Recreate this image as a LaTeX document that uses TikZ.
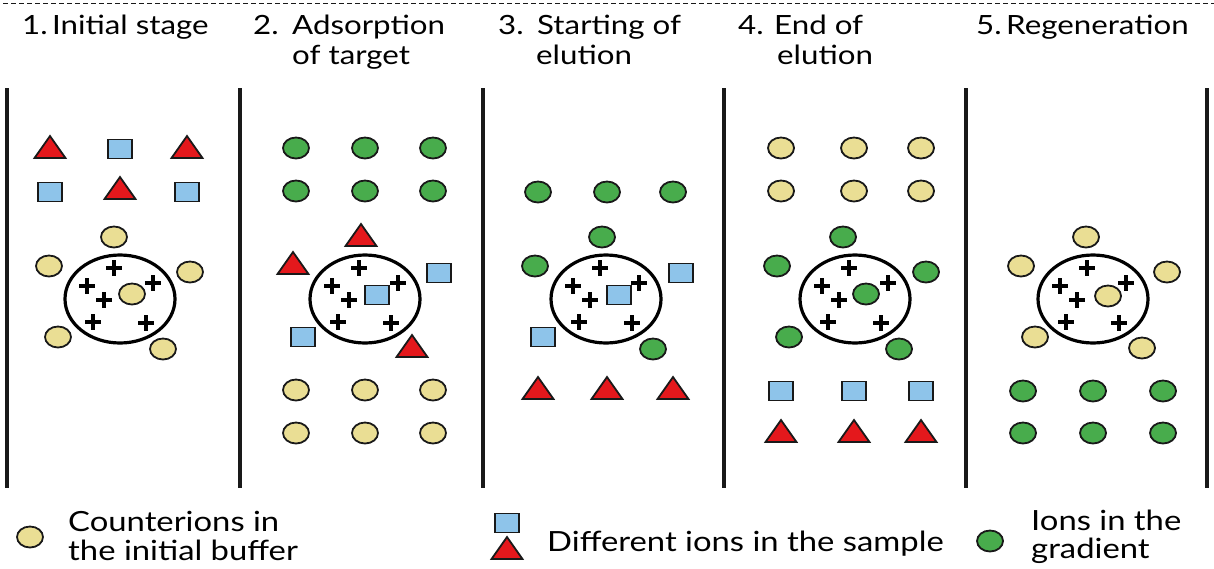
\documentclass[tikz,border=0pt]{standalone}
\usepackage{fontspec}
\setmainfont{Lato}[FakeStretch=1.18]
\usetikzlibrary{shapes.geometric}
\definecolor{cyel}{RGB}{234,222,148}
\definecolor{cgrn}{RGB}{72,172,76}
\definecolor{cred}{RGB}{228,24,28}
\definecolor{cblu}{RGB}{142,196,234}
\definecolor{cline}{RGB}{25,25,25}
\tikzset{
  ion/.style={draw=cline, line width=1.8pt, inner sep=0pt},
  yel/.style={ion, ellipse, fill=cyel, minimum width=26pt, minimum height=21pt},
  grn/.style={ion, ellipse, fill=cgrn, minimum width=26pt, minimum height=21pt},
  sq/.style={ion, rectangle, fill=cblu, minimum width=24pt, minimum height=19pt},
  tri/.style={ion, isosceles triangle, isosceles triangle stretches, shape border rotate=90, fill=cred, minimum width=31pt, minimum height=22pt},
  bead/.style={draw=black, line width=3.2pt, ellipse, minimum width=110pt, minimum height=88pt, inner sep=0pt},
  wall/.style={draw=cline, line width=3.2pt},
  head/.style={anchor=base west, inner sep=0pt, font=\fontsize{26.5}{32}\selectfont},
  leg/.style={anchor=base west, inner sep=0pt, font=\fontsize{27.8}{32}\selectfont},
  pl/.pic={\draw[line width=3.6pt] (-8,0)--(8,0) (0,-8)--(0,8);}
}
\begin{document}
\begin{tikzpicture}[x=1pt,y=-1pt]
\useasboundingbox (0,0) rectangle (1214,568);
\draw[cline, line width=0.7pt, dash pattern=on 5pt off 3pt] (3,3) -- (1214,3);
% walls
\foreach \x [count=\i] in {7,240,483,724,966,1207}
  \coordinate (wt\i) at (\x,88);
\foreach \x [count=\i] in {7,240,483,724,966,1207}
  \coordinate (wb\i) at (\x,488);
\foreach \i in {1,...,6} \draw[wall] (wt\i) -- (wb\i);
% headers
\node[head] (h1) at (22,34) {\makebox[30pt][l]{1.}Initial stage};
\node[head] (h2a) at (253,34) {\makebox[39pt][l]{2.}Adsorption};
\node[head] (h2b) at (292,64) {of target};
\node[head] (h3a) at (498,34) {\makebox[39pt][l]{3.}Starting of};
\node[head] (h3b) at (536,64) {elution};
\node[head] (h4a) at (738,34) {\makebox[36pt][l]{4.}End of};
\node[head] (h4b) at (777,64) {elution};
\node[head] (h5) at (976,34) {\makebox[30pt][l]{5.}Regeneration};
% beads and plus signs
\foreach \cx [count=\i] in {120,365,606,855,1093} {
  \node[bead] (b\i) at (\cx,299) {};
  \foreach \dx/\dy in {-6/-31, 33/-16, -33/-13, -16/1, -27/23, 26/24}
    \pic at (\cx+\dx,299+\dy) {pl};
}
% column 1
\node[tri] (c1t1) at (50,150) {};
\node[sq]  (c1s1) at (120,149) {};
\node[tri] (c1t2) at (187,150) {};
\node[sq]  (c1s2) at (50,192) {};
\node[tri] (c1t3) at (120,191) {};
\node[sq]  (c1s3) at (187,192) {};
\node[yel] (c1y1) at (114,237) {};
\node[yel] (c1y2) at (49,266) {};
\node[yel] (c1y3) at (190,272) {};
\node[yel] (c1y4) at (132,294) {};
\node[yel] (c1y5) at (58,337) {};
\node[yel] (c1y6) at (163,349) {};
% column 2
\foreach \x [count=\i] in {296,365,433} {
  \node[grn] (c2g\i) at (\x,148) {};
  \node[grn] (c2h\i) at (\x,191) {};
  \node[yel] (c2y\i) at (\x,390) {};
  \node[yel] (c2z\i) at (\x,433) {};
}
\node[tri] (c2t1) at (361,238) {};
\node[tri] (c2t2) at (293,266) {};
\node[sq]  (c2s1) at (439,273) {};
\node[sq]  (c2s2) at (377,295) {};
\node[sq]  (c2s3) at (303,337) {};
\node[tri] (c2t3) at (412,349) {};
% column 3
\foreach \x [count=\i] in {538,607,673} {
  \node[grn] (c3g\i) at (\x,192) {};
  \node[tri] (c3t\i) at (\x,391) {};
}
\node[grn] (c3a) at (602,237) {};
\node[grn] (c3b) at (535,266) {};
\node[sq]  (c3c) at (681,273) {};
\node[sq]  (c3d) at (619,295) {};
\node[sq]  (c3e) at (543,337) {};
\node[grn] (c3f) at (653,349) {};
% column 4
\foreach \x [count=\i] in {781,854,921} {
  \node[yel] (c4y\i) at (\x,148) {};
  \node[yel] (c4z\i) at (\x,191) {};
  \node[sq]  (c4s\i) at (\x,391) {};
  \node[tri] (c4t\i) at (\x,434) {};
}
\node[grn] (c4a) at (843,237) {};
\node[grn] (c4b) at (777,266) {};
\node[grn] (c4c) at (926,272) {};
\node[grn] (c4d) at (866,294) {};
\node[grn] (c4e) at (789,337) {};
\node[grn] (c4f) at (899,349) {};
% column 5
\node[yel] (c5a) at (1086,237) {};
\node[yel] (c5b) at (1021,266) {};
\node[yel] (c5c) at (1167,272) {};
\node[yel] (c5d) at (1108,296) {};
\node[yel] (c5e) at (1035,337) {};
\node[yel] (c5f) at (1142,348) {};
\foreach \x [count=\i] in {1023,1093,1163} {
  \node[grn] (c5g\i) at (\x,391) {};
  \node[grn] (c5h\i) at (\x,433) {};
}
% legend
\node[yel] (ly) at (30,537) {};
\node[leg] (lt1) at (68,531) {Counterions in};
\node[leg] (lt2) at (68,560) {the initial buffer};
\node[sq]  (ls) at (507,523) {};
\node[tri] (lt) at (507,551) {};
\node[leg] (lt3) at (547,551) {Different ions in the sample};
\node[grn] (lg) at (990,541) {};
\node[leg] (lt4) at (1031,530) {Ions in the};
\node[leg] (lt5) at (1031,558) {gradient};
\end{tikzpicture}
\end{document}
